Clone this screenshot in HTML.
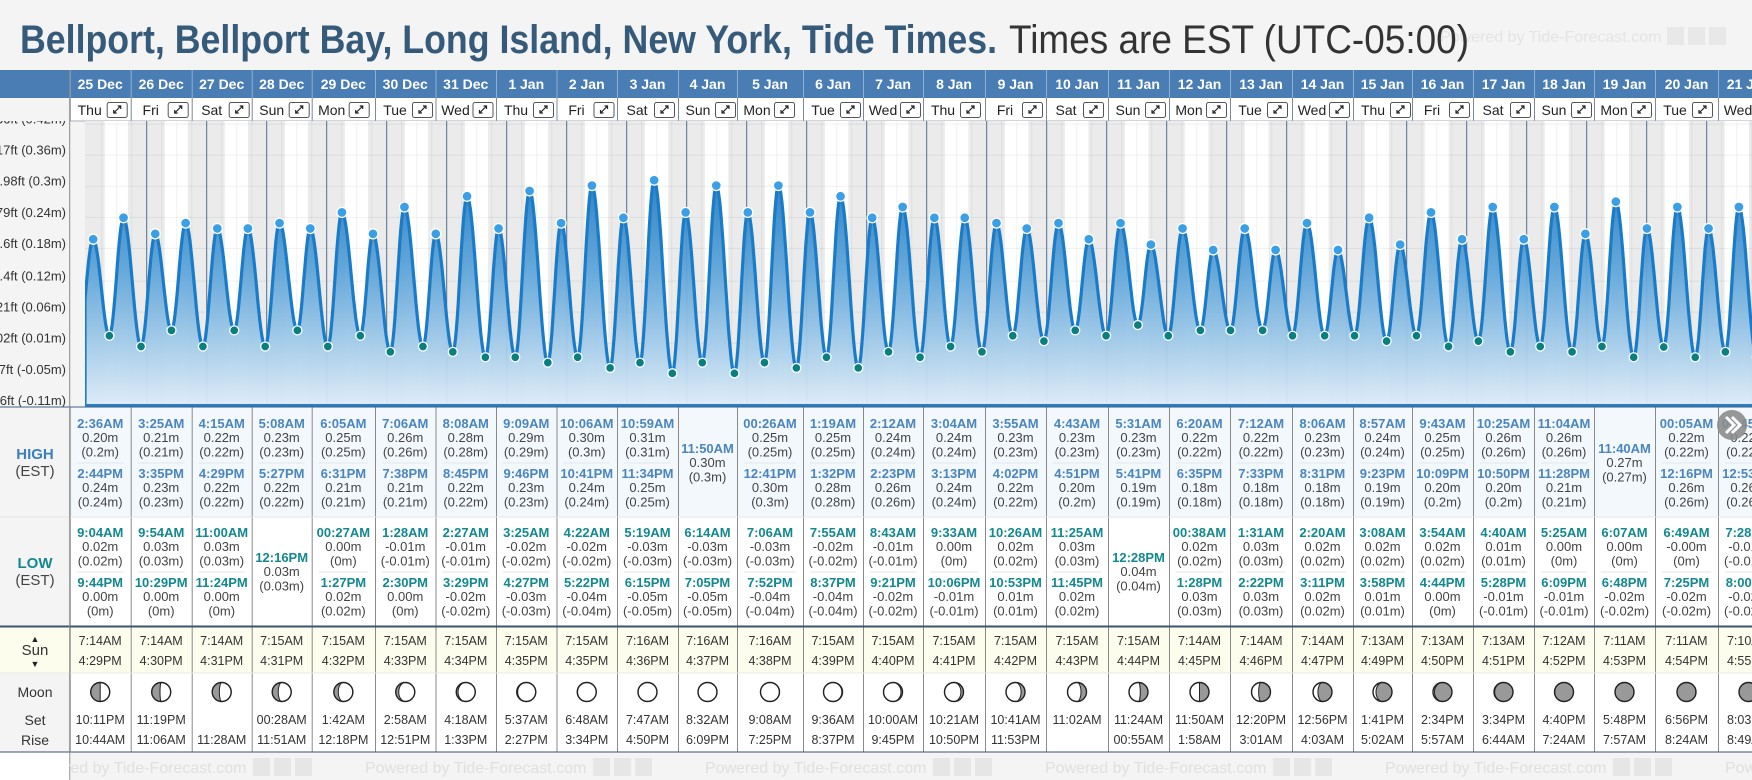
<!DOCTYPE html>
<html><head><meta charset="utf-8"><title>Bellport Tide Times</title>
<style>html,body{margin:0;padding:0;background:#f4f4f4;}svg{display:block;}</style>
</head><body>
<svg id="root" xmlns="http://www.w3.org/2000/svg" width="1752" height="780" viewBox="0 0 1752 780" font-family="Liberation Sans, sans-serif">
<defs>
<linearGradient id="areaGrad" gradientUnits="userSpaceOnUse" x1="0" y1="160" x2="0" y2="405">
<stop offset="0" stop-color="#1674c0"/><stop offset="0.45" stop-color="#5ea4d8"/><stop offset="1" stop-color="#dcebf7"/>
</linearGradient>
<clipPath id="plotClip"><rect x="85" y="121" width="1667" height="284"/></clipPath>
<clipPath id="axisClip"><rect x="0" y="121" width="70" height="290"/></clipPath>
</defs>
<rect x="0" y="0" width="1752" height="780" fill="#f4f4f4"/>
<g>
<text x="1440" y="42" font-size="16" fill="#e4e4e4">Powered by Tide-Forecast.com</text>
<rect x="1667" y="27" width="17" height="18" fill="#e8e8e8"/><rect x="1688" y="27" width="17" height="18" fill="#e8e8e8"/><rect x="1709" y="27" width="17" height="18" fill="#e8e8e8"/>
</g>
<text x="20" y="53" font-size="40" font-weight="bold" fill="#365a7a" textLength="977" lengthAdjust="spacingAndGlyphs">Bellport, Bellport Bay, Long Island, New York, Tide Times.</text>
<text x="1009" y="53" font-size="40" fill="#333" textLength="460" lengthAdjust="spacingAndGlyphs">Times are EST (UTC-05:00)</text>
<g id="header"></g>
<g id="chart"></g>
<g id="table"></g>
</svg>
<script>
// ---- data ----
const dayLabels = ['25 Dec','26 Dec','27 Dec','28 Dec','29 Dec','30 Dec','31 Dec','1 Jan','2 Jan','3 Jan','4 Jan','5 Jan','6 Jan','7 Jan','8 Jan','9 Jan','10 Jan','11 Jan','12 Jan','13 Jan','14 Jan','15 Jan','16 Jan','17 Jan','18 Jan','19 Jan','20 Jan','21 Jan'];
const weekdays = ['Thu','Fri','Sat','Sun','Mon','Tue','Wed','Thu','Fri','Sat','Sun','Mon','Tue','Wed','Thu','Fri','Sat','Sun','Mon','Tue','Wed','Thu','Fri','Sat','Sun','Mon','Tue','Wed'];
const highTimes = [['2:36AM','2:44PM'],['3:25AM','3:35PM'],['4:15AM','4:29PM'],['5:08AM','5:27PM'],['6:05AM','6:31PM'],['7:06AM','7:38PM'],['8:08AM','8:45PM'],['9:09AM','9:46PM'],['10:06AM','10:41PM'],['10:59AM','11:34PM'],['11:50AM'],['00:26AM','12:41PM'],['1:19AM','1:32PM'],['2:12AM','2:23PM'],['3:04AM','3:13PM'],['3:55AM','4:02PM'],['4:43AM','4:51PM'],['5:31AM','5:41PM'],['6:20AM','6:35PM'],['7:12AM','7:33PM'],['8:06AM','8:31PM'],['8:57AM','9:23PM'],['9:43AM','10:09PM'],['10:25AM','10:50PM'],['11:04AM','11:28PM'],['11:40AM'],['00:05AM','12:16PM'],['00:45AM','12:53PM']];
const highHeights = [[0.20,0.24],[0.21,0.23],[0.22,0.22],[0.23,0.22],[0.25,0.21],[0.26,0.21],[0.28,0.22],[0.29,0.23],[0.30,0.24],[0.31,0.25],[0.30],[0.25,0.30],[0.25,0.28],[0.24,0.26],[0.24,0.24],[0.23,0.22],[0.23,0.20],[0.23,0.19],[0.22,0.18],[0.22,0.18],[0.23,0.18],[0.24,0.19],[0.25,0.20],[0.26,0.20],[0.26,0.21],[0.27],[0.22,0.26],[0.22,0.26]];
const lowTimes = [['9:04AM','9:44PM'],['9:54AM','10:29PM'],['11:00AM','11:24PM'],['12:16PM'],['00:27AM','1:27PM'],['1:28AM','2:30PM'],['2:27AM','3:29PM'],['3:25AM','4:27PM'],['4:22AM','5:22PM'],['5:19AM','6:15PM'],['6:14AM','7:05PM'],['7:06AM','7:52PM'],['7:55AM','8:37PM'],['8:43AM','9:21PM'],['9:33AM','10:06PM'],['10:26AM','10:53PM'],['11:25AM','11:45PM'],['12:28PM'],['00:38AM','1:28PM'],['1:31AM','2:22PM'],['2:20AM','3:11PM'],['3:08AM','3:58PM'],['3:54AM','4:44PM'],['4:40AM','5:28PM'],['5:25AM','6:09PM'],['6:07AM','6:48PM'],['6:49AM','7:25PM'],['7:28AM','8:00PM']];
const lowHeights = [[0.02,0.00],[0.03,0.00],[0.03,0.00],[0.03],[0.00,0.02],[-0.01,0.00],[-0.01,-0.02],[-0.02,-0.03],[-0.02,-0.04],[-0.03,-0.05],[-0.03,-0.05],[-0.03,-0.04],[-0.02,-0.04],[-0.01,-0.02],[0.00,-0.01],[0.02,0.01],[0.03,0.02],[0.04],[0.02,0.03],[0.03,0.03],[0.02,0.02],[0.02,0.01],[0.02,0.00],[0.01,-0.01],[0.00,-0.01],[0.00,-0.02],[-0.001,-0.02],[-0.01,-0.02]];
const sunrise = ['7:14AM','7:14AM','7:14AM','7:15AM','7:15AM','7:15AM','7:15AM','7:15AM','7:15AM','7:16AM','7:16AM','7:16AM','7:15AM','7:15AM','7:15AM','7:15AM','7:15AM','7:15AM','7:14AM','7:14AM','7:14AM','7:13AM','7:13AM','7:13AM','7:12AM','7:11AM','7:11AM','7:10AM'];
const sunset = ['4:29PM','4:30PM','4:31PM','4:31PM','4:32PM','4:33PM','4:34PM','4:35PM','4:35PM','4:36PM','4:37PM','4:38PM','4:39PM','4:40PM','4:41PM','4:42PM','4:43PM','4:44PM','4:45PM','4:46PM','4:47PM','4:49PM','4:50PM','4:51PM','4:52PM','4:53PM','4:54PM','4:55PM'];
const moonSet = ['10:11PM','11:19PM','','00:28AM','1:42AM','2:58AM','4:18AM','5:37AM','6:48AM','7:47AM','8:32AM','9:08AM','9:36AM','10:00AM','10:21AM','10:41AM','11:02AM','11:24AM','11:50AM','12:20PM','12:56PM','1:41PM','2:34PM','3:34PM','4:40PM','5:48PM','6:56PM','8:03PM'];
const moonRise = ['10:44AM','11:06AM','11:28AM','11:51AM','12:18PM','12:51PM','1:33PM','2:27PM','3:34PM','4:50PM','6:09PM','7:25PM','8:37PM','9:45PM','10:50PM','11:53PM','','00:55AM','1:58AM','3:01AM','4:03AM','5:02AM','5:57AM','6:44AM','7:24AM','7:57AM','8:24AM','8:49AM'];
const moonPhase = [0.25,0.27,0.29,0.31,0.34,0.37,0.40,0.43,0.46,0.48,0.50,0.53,0.56,0.59,0.62,0.65,0.68,0.72,0.75,0.79,0.83,0.87,0.91,0.94,0.97,0.99,0.02,0.05];
const tickFt = [1.36,1.17,0.98,0.79,0.6,0.4,0.21,0.02,-0.17,-0.36];
const tickLabels = ['1.36ft (0.42m)','1.17ft (0.36m)','0.98ft (0.3m)','0.79ft (0.24m)','0.6ft (0.18m)','0.4ft (0.12m)','0.21ft (0.06m)','0.02ft (0.01m)','-0.17ft (-0.05m)','-0.36ft (-0.11m)'];

// ---- layout ----
const NS = 'http://www.w3.org/2000/svg';
const colEdges = [69.7,130.7,191.7,251.7,311.7,375,435.5,496,556.5,617,678,737,803,863,923,985,1046,1108,1169,1230,1292,1353,1412,1473,1534,1594,1655,1718,1779];
const CX0 = 86.7, DAYW = 60, Y0 = 346.5, KM = 536.5;
function mk(tag, attrs, parent, text) {
  const e = document.createElementNS(NS, tag);
  for (const k in attrs) e.setAttribute(k, attrs[k]);
  if (text !== undefined) e.textContent = text;
  parent.appendChild(e);
  return e;
}
function hrs(s) { const m = s.match(/(\d+):(\d+)(AM|PM)/); let h = (+m[1]) % 12; if (m[3] === 'PM') h += 12; return h + (+m[2]) / 60; }
function xScale(dayIdx, h) { return CX0 + DAYW * (dayIdx + h / 24); }
function yScale(m) { return Y0 - KM * m; }
function yFt(ft) { return Y0 - KM * ft / 3.2808; }
function fmtParen(v) { const s = v.toFixed(2); const n = parseFloat(s); return '(' + (Object.is(n, -0) ? '0' : String(n)) + 'm)'; }

const header = document.getElementById('header');
const chart = document.getElementById('chart');
const table = document.getElementById('table');
const N = dayLabels.length;

// ---- header ----
const hb = mk('rect', {x:0, y:70, width:1752, height:28, fill:'#4a7db3'}, header);


const drow = mk('rect', {x:70, y:98, width:1682, height:23, fill:'#ffffff'}, header);


for (let i = 0; i < N; i++) {
  const x0 = colEdges[i], x1 = colEdges[i+1], cx = (x0 + x1) / 2;
  const dl = mk('text', {x:cx, y:89, 'font-size':14, 'font-weight':'bold', fill:'#fff', 'text-anchor':'middle'}, header, dayLabels[i]);
  
  
  const sep = mk('line', {x1:x0+0.5, y1:70, x2:x0+0.5, y2:98, stroke:'#8fb0d2', 'stroke-width':1}, header);
  
  
  const sep2 = mk('line', {x1:x0+0.5, y1:98, x2:x0+0.5, y2:121, stroke:'#7a8a9a', 'stroke-width':1}, header);
  
  
  const wd = mk('text', {x:x0+20, y:115, 'font-size':14, fill:'#222', 'text-anchor':'middle'}, header, weekdays[i]);
  
  
  const bx = mk('g', {}, header);
  
  
  mk('rect', {x:x0+37.5, y:102.5, width:20, height:15, rx:2, fill:'#fff', stroke:'#555', 'stroke-width':1}, bx);
  mk('path', {d:`M${x0+44} 113L${x0+51} 106M${x0+48} 106L${x0+51} 106L${x0+51} 109M${x0+44} 110L${x0+44} 113L${x0+47} 113`, stroke:'#222', 'stroke-width':1.2, fill:'none'}, bx);
}
const hdrBottom = mk('line', {x1:70, y1:121, x2:1752, y2:121, stroke:'#aab', 'stroke-width':1}, header);



// ---- chart ----
const plotBg = mk('rect', {x:85, y:121, width:1667, height:284, fill:'#ebebeb'}, chart);


const plot = mk('g', {'clip-path':'url(#plotClip)'}, chart);


for (let d = 0; d < N; d++) {
  const xa = xScale(d, hrs(sunrise[d])), xb = xScale(d, hrs(sunset[d]));
  const r = mk('rect', {x:xa, y:121, width:xb-xa, height:284, fill:'#ffffff'}, plot);
  
  
}
for (let k = 0; k <= N * 4; k++) {
  if (k % 4 === 0) continue;
  const x = xScale(0, k * 6);
  const gl = mk('line', {x1:x, y1:121, x2:x, y2:405, stroke:'#000', 'stroke-opacity':0.05, 'stroke-width':1}, plot);
  
  
}
for (let i = 0; i < tickFt.length; i++) {
  const y = yFt(tickFt[i]);
  const gl = mk('line', {x1:85, y1:y, x2:1752, y2:y, stroke:'#000', 'stroke-opacity':0.06, 'stroke-width':1}, plot);
  
  
}
for (let d = 1; d < N; d++) {
  const x = xScale(d, 0);
  const ml = mk('line', {x1:x, y1:121, x2:x, y2:405, stroke:'#50708f', 'stroke-width':1}, plot);
  
  
}
// extremes
const ext = [];
ext.push({t: -3.5/24, v: 0.00, hi:false, show:false});
for (let d = 0; d < N; d++) {
  highTimes[d].forEach((s, j) => ext.push({t: d + hrs(s)/24, v: highHeights[d][j], hi:true, show:true}));
  lowTimes[d].forEach((s, j) => ext.push({t: d + hrs(s)/24, v: lowHeights[d][j], hi:false, show:true}));
}
ext.push({t: N + 1.4/24, v: 0.22, hi:true, show:false});
ext.sort((a, b) => a.t - b.t);
const pts = [];
for (let i = 0; i < ext.length - 1; i++) {
  const a = ext[i], b = ext[i+1];
  for (let s = 0; s < 16; s++) {
    const f = s / 16, t = a.t + (b.t - a.t) * f;
    const v = a.v + (b.v - a.v) * (1 - Math.cos(Math.PI * f)) / 2;
    pts.push([xScale(t, 0), yScale(v)]);
  }
}
const last = ext[ext.length-1]; pts.push([xScale(last.t,0), yScale(last.v)]);
let startY = pts[0][1];
for (let i = 0; i < pts.length - 1; i++) { if (pts[i][0] <= 85 && pts[i+1][0] >= 85) { const f = (85 - pts[i][0]) / (pts[i+1][0] - pts[i][0]); startY = pts[i][1] + f * (pts[i+1][1] - pts[i][1]); break; } }
const vis = pts.filter(p => p[0] >= 85);
let lineD = `M85 405L85 ${startY.toFixed(1)}` + vis.map(p => `L${p[0].toFixed(1)} ${p[1].toFixed(1)}`).join('');
const area = mk('path', {d: lineD + `L${vis[vis.length-1][0].toFixed(1)} 405Z`, fill:'url(#areaGrad)', 'fill-opacity':0.95}, plot);


const line = mk('path', {d: lineD, fill:'none', stroke:'#1a7cc8', 'stroke-width':3.2, 'stroke-linejoin':'round'}, plot);


ext.forEach(e => {
  if (!e.show) return;
  const c = mk('circle', {cx: xScale(e.t, 0), cy: yScale(e.v), r: e.hi ? 5 : 4.5, fill: e.hi ? '#3a9fe6' : '#0a7f80', stroke:'#fff', 'stroke-width':1.3}, plot);
  
  
});
const bottomAxis = mk('line', {x1:85, y1:405.5, x2:1752, y2:405.5, stroke:'#2a7cc4', 'stroke-width':3}, chart);


const axisG = mk('g', {'clip-path':'url(#axisClip)'}, chart);


for (let i = 0; i < tickFt.length; i++) {
  const t = mk('text', {x:66, y:yFt(tickFt[i]) - 0.5, 'font-size':13, fill:'#333', 'text-anchor':'end'}, axisG, tickLabels[i]);
  
  
}

// ---- table ----
const rowsBg = [[407,110,'#f3f8fd'],[517,109,'#ffffff'],[627,46,'#fdfdee'],[673,79,'#ffffff'],[752,28,'#f4f4f4']];
const rowNames = ['high-tide-row','low-tide-row','sun-row','moon-row','footer-row'];
rowsBg.forEach((r, i) => {
  const rr = mk('rect', {x:70, y:r[0], width:1682, height:r[1], fill:r[2]}, table);
  
  
});
const lblBg = [[407,219,'#f4f4f4'],[627,46,'#fdfdee'],[673,79,'#f4f4f4'],[752,28,'#ffffff']];
lblBg.forEach(r => {
  const rr = mk('rect', {x:0, y:r[0], width:70, height:r[1], fill:r[2]}, table);
  
  
});
function lbl(txt, x, y, size, color, bold, name) {
  const t = mk('text', {x:x, y:y, 'font-size':size, fill:color, 'text-anchor':'middle', 'font-weight': bold ? 'bold' : 'normal'}, table, txt);
  
  
}
lbl('HIGH', 35, 459, 15, '#3c7fbf', true, 'high-label');
lbl('(EST)', 35, 476, 15, '#444', false, 'high-timezone-label');
lbl('LOW', 35, 568, 15, '#13888e', true, 'low-label');
lbl('(EST)', 35, 585, 15, '#444', false, 'low-timezone-label');
lbl('▲', 35, 642, 9, '#222', false, 'sunrise-icon');
lbl('Sun', 35, 655, 15, '#333', false, 'sun-label');
lbl('▼', 35, 667, 9, '#222', false, 'sunset-icon');
lbl('Moon', 35, 697, 14, '#333', false, 'moon-label');
lbl('Set', 35, 725, 14, '#333', false, 'moonset-label');
lbl('Rise', 35, 745, 14, '#333', false, 'moonrise-label');

function entryBlock(times, vals, cx, baseTwo, baseOne, color, kind) {
  const bases = times.length === 2 ? baseTwo : [baseOne];
  times.forEach((s, j) => {
    const b = bases[j];
    lbl(s, cx, b, 13, color, true, kind + '-time');
    lbl(vals[j].toFixed(2) + 'm', cx, b + 14, 13, '#444', false, kind + '-height');
    lbl(fmtParen(vals[j]), cx, b + 28.5, 13, '#444', false, kind + '-height-alt');
  });
}
for (let i = 0; i < N; i++) {
  const x0 = colEdges[i], x1 = colEdges[i+1], cx = (x0 + x1) / 2;
  entryBlock(highTimes[i], highHeights[i], cx, [428, 478], 453, '#4a85bf', 'high-tide');
  entryBlock(lowTimes[i], lowHeights[i], cx, [537, 587], 562, '#13888e', 'low-tide');
  if (highTimes[i].length === 2) { const s = mk('line', {x1:x0+7, y1:463, x2:x1-7, y2:463, stroke:'#e3e8ee', 'stroke-width':1}, table);   }
  if (lowTimes[i].length === 2) { const s = mk('line', {x1:x0+7, y1:572, x2:x1-7, y2:572, stroke:'#e6e6e6', 'stroke-width':1}, table);   }
  lbl(sunrise[i], cx, 645, 12.5, '#333', false, 'sunrise-time');
  lbl(sunset[i], cx, 665, 12.5, '#333', false, 'sunset-time');
  if (moonSet[i]) lbl(moonSet[i], cx, 724, 12.5, '#333', false, 'moonset-time');
  if (moonRise[i]) lbl(moonRise[i], cx, 744, 12.5, '#333', false, 'moonrise-time');
  const mg = mk('g', {}, table);
  
  
  const r = 9.5, cy = 692, p = moonPhase[i];
  mk('circle', {cx:cx, cy:cy, r:r, fill:'#999'}, mg);
  const k = Math.cos(2 * Math.PI * p), rx = Math.max(0.01, r * Math.abs(k));
  let d;
  if (p <= 0.5) { d = `M${cx} ${cy-r}A${r} ${r} 0 0 1 ${cx} ${cy+r}A${rx} ${r} 0 0 ${k > 0 ? 0 : 1} ${cx} ${cy-r}Z`; }
  else { d = `M${cx} ${cy-r}A${r} ${r} 0 0 0 ${cx} ${cy+r}A${rx} ${r} 0 0 ${k > 0 ? 1 : 0} ${cx} ${cy-r}Z`; }
  mk('path', {d:d, fill:'#fff', stroke:'#222', 'stroke-width':1}, mg);
  mk('circle', {cx:cx, cy:cy, r:r, fill:'none', stroke:'#222', 'stroke-width':1.4}, mg);
  const vs = mk('line', {x1:x0+0.5, y1:407, x2:x0+0.5, y2:752, stroke:'#8a8a8a', 'stroke-width':1}, table);
  
  
}
const hl = [[517,'#e4e4e4',1],[673,'#e8e8e8',1],[626.5,'#3a5670',2],[752,'#3a5670',1],[407,'#3f5f7f',1]];
hl.forEach(h => {
  const l = mk('line', {x1:0, y1:h[0], x2:1752, y2:h[0], stroke:h[1], 'stroke-width':h[2]}, table);
  
  
});
const lv = mk('line', {x1:69.7, y1:70, x2:69.7, y2:780, stroke:'#888', 'stroke-width':1}, table);


for (let k = 0; k < 6; k++) {
  const x = 25 + k * 340;
  const ft = mk('text', {x:x, y:773, 'font-size':16, fill:'#e0e0e0'}, table, 'Powered by Tide-Forecast.com');
  
  
  for (let j = 0; j < 3; j++) mk('rect', {x:x + 228 + j * 21, y:758, width:17, height:18, fill:'#e6e6e6'}, table);
}
const fc = mk('rect', {x:0, y:753, width:69.2, height:27, fill:'#ffffff'}, table);


const nb = mk('g', {}, table);


mk('circle', {cx:1732, cy:425, r:15, fill:'#8c8c8c', 'fill-opacity':0.9}, nb);
mk('path', {d:'M1726 417L1734 425L1726 433M1732 417L1740 425L1732 433', stroke:'#fff', 'stroke-width':3, fill:'none'}, nb);
</script>
</body></html>
